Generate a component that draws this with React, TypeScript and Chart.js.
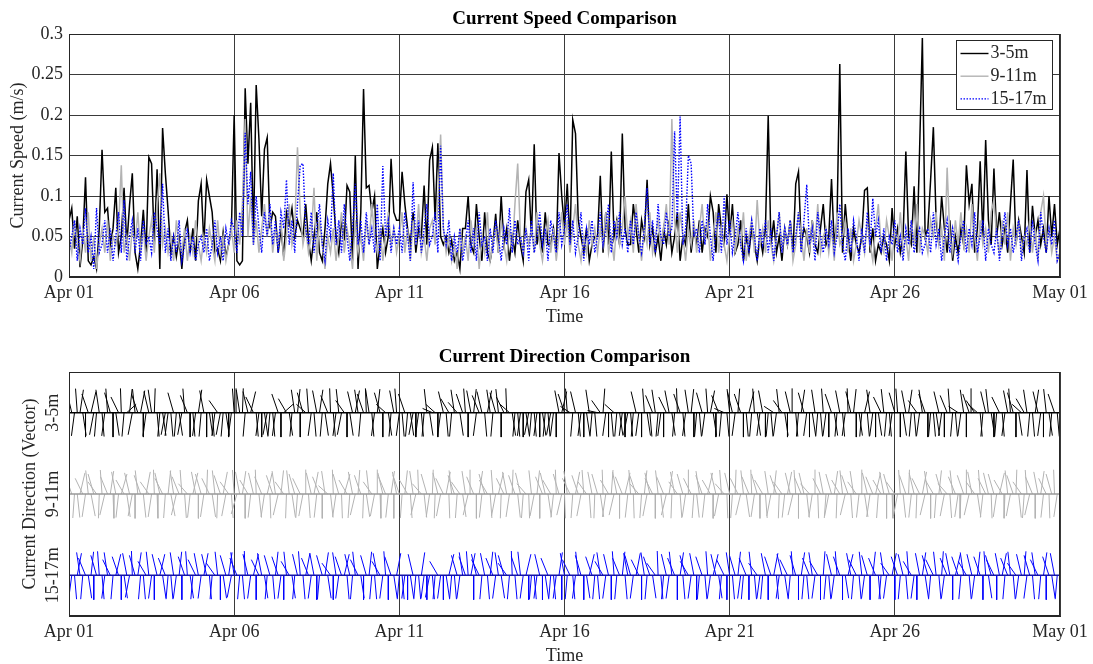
import React, { useEffect, useRef } from 'react';
import { Chart, registerables } from 'chart.js';

Chart.register(...registerables);

// ---------------- data ----------------
const DAY_TICKS = ['Apr 01', 'Apr 06', 'Apr 11', 'Apr 16', 'Apr 21', 'Apr 26', 'May 01'];
const SPEED_STEP_HOURS = 2; // one value every 2 hours, Apr 01 00:00 .. May 01 00:00
const DIR_STEP_HOURS = 2; // one direction stick every 2 hours

// current speed, cm/s (converted to m/s for plotting)
const speed3to5 = [
  7, 8.5, 3.5, 7.5, 1.2, 4.5, 12.3, 2, 1.5, 2.5, 1, 6,
  15.7, 8, 8.5, 4, 6, 11, 3, 5, 11, 4, 8.9, 12.8,
  3, 1, 4, 8.3, 3, 14.8, 14, 4, 13.3, 1, 18.4, 12.8,
  8.2, 3, 5, 2.5, 4.7, 1, 5.5, 7, 3, 6, 2, 9.4,
  11.5, 4, 12, 10, 8, 3, 3.5, 2, 5.5, 2.5, 4, 6,
  20, 2, 1.5, 2, 23.3, 14, 21.5, 5, 23.7, 17, 7.5, 15.8,
  17.2, 6, 8, 7.5, 3, 6, 2.5, 8, 6.5, 8.5, 5, 7,
  6, 5, 9, 4.5, 2, 5, 8, 3, 2, 6, 11.5, 14,
  10, 5, 3, 7, 4.5, 11.3, 10.5, 2, 15, 1, 8, 23.2,
  11, 11.3, 8, 10, 1, 4, 6, 3, 5, 14.6, 8, 7,
  7, 13, 9, 6, 4, 8, 3, 6, 5, 11.3, 4, 14.4,
  16, 7, 16.5, 5, 4, 5, 3, 4.5, 2, 3, 1, 6,
  6, 10, 4, 3, 9, 5, 2, 8, 3, 2, 4, 7.8,
  3, 10, 4, 6, 2, 5, 3, 7, 4, 2, 10.5, 12,
  5, 16.4, 4, 6, 3, 8, 4, 4, 6, 3, 15.3, 10,
  6, 11.5, 4, 19.4, 17.7, 7, 5, 3, 6, 2, 4, 5,
  5, 12.5, 3, 8, 4, 15.5, 5, 7, 4, 17.7, 6, 4,
  4, 9, 6, 3, 7, 5, 12, 4, 6, 3, 5, 2,
  6, 4, 7, 3, 5, 8, 2, 5, 4, 9, 3, 6,
  4, 7, 3, 6, 5, 10, 8, 3, 9, 6, 4, 10.2,
  5, 9, 3, 4, 7, 2, 5, 3, 6, 4, 2, 5,
  3, 6, 19.9, 4, 7, 3, 5, 2, 6, 4, 7, 3,
  11.5, 13, 4, 6, 5, 3, 7, 4, 3, 6, 9, 4,
  5, 12.1, 4, 7, 26.3, 3, 9, 5, 2, 6, 4, 3,
  5, 10.7, 11, 3, 6, 2, 4, 3, 5, 4, 2, 8.5,
  4, 6, 3, 5, 15.5, 5, 4, 11.2, 3, 15.7, 29.5, 5,
  6, 12, 18.5, 7, 4, 10, 6, 3, 7, 2, 5, 3,
  6, 4, 13.8, 9, 11.5, 3, 6, 14.3, 5, 16.9, 7, 4,
  13.4, 5, 8, 4, 6, 3, 9, 14.5, 4, 7, 5, 3,
  13.2, 3, 8.8, 5, 7, 4, 6, 3, 10, 5, 9, 4,
  6,
];

const speed9to11 = [
  5, 3, 7, 4, 2, 6, 3, 8, 2, 5, 1, 4,
  6, 3, 7, 2, 5, 4, 6, 13.8, 3, 5, 2, 6,
  4, 8, 3, 6, 2, 5, 7, 3, 9, 12.8, 4, 6,
  3, 5, 2, 7, 4, 3, 6, 2, 5, 3, 7, 4,
  2, 5, 3, 6, 4, 2, 7, 3, 5, 2, 4, 6,
  3, 7, 4, 9, 19.5, 5, 10, 4, 7, 3, 6, 9,
  5, 8, 3, 6, 4, 7, 2, 5, 9, 4, 6, 16,
  8, 4, 6, 3, 5, 11, 2, 7, 4, 1, 5, 3,
  6, 2, 5, 8, 3, 6, 4, 1, 7, 3, 5, 2,
  7, 4, 9, 5, 3, 6, 2, 5, 8, 4, 6, 3,
  5, 8, 3, 6, 2, 7, 4, 9, 3, 5, 2, 6,
  7, 4, 9, 17.6, 6, 3, 5, 2, 4, 1, 6, 3,
  5, 2, 7, 4, 6, 1, 5, 3, 8, 2, 4, 6,
  3, 7, 4, 2, 6, 3, 9, 14, 5, 3, 6, 4,
  6, 3, 8, 4, 2, 5, 7, 3, 6, 2, 5, 8,
  4, 7, 3, 6, 9, 4, 2, 5, 3, 7, 4, 6,
  3, 6, 4, 8, 3, 5, 2, 7, 4, 6, 10, 5,
  7, 3, 9, 5, 2, 6, 4, 8, 3, 5, 7, 4,
  6, 9, 4, 19.5, 7, 3, 8, 5, 2, 6, 4, 7,
  3, 6, 9, 4, 7, 2, 5, 8, 3, 6, 4, 2,
  5, 7, 3, 6, 4, 8, 2, 5, 7, 3, 9.5, 4,
  6, 3, 7, 4, 2, 5, 8, 3, 6, 4, 7, 2,
  4, 8, 5, 2, 6, 3, 7, 4, 9, 3, 5, 6,
  3, 6, 2, 8, 4, 5, 7, 3, 6, 2, 4, 7,
  5, 3, 7, 4, 2, 6, 9, 4, 3, 7, 5, 2,
  6, 4, 8, 3, 5, 2, 7, 4, 9, 3, 6, 5,
  3, 7, 5, 8, 4, 6, 2, 13.5, 5, 3, 7, 4,
  8, 4, 6, 3, 9, 5, 2, 7, 4, 6, 3, 8,
  9.5, 5, 3, 7, 4, 8, 2, 6, 4, 7, 3, 5,
  4, 7, 3, 6, 2, 8, 10, 4, 6, 3, 5, 2,
  3,
];

const speed15to17 = [
  3, 5, 7, 2, 6, 4, 8.5, 3, 5, 1, 8.5, 3,
  4, 7, 3, 6, 2, 5, 8, 3, 9.5, 2, 5, 7,
  3, 6, 2, 7, 4, 5, 3, 8, 6, 4, 11.5, 3,
  6, 2, 5, 3, 7, 2, 4, 6, 3, 5, 2, 4,
  5, 3, 6, 2, 4, 7, 3, 5, 2, 6, 4, 7,
  6, 3, 8, 5, 17.8, 9, 13, 4, 10, 6, 3, 8,
  5, 9, 4, 7, 3, 8, 6, 12, 4, 7, 3, 9,
  13.8, 14, 6, 4, 8, 3, 6, 9, 4, 2, 7, 5,
  12.8, 4, 7, 3, 9, 5, 2, 6, 11.5, 4, 7, 3,
  8, 4, 6, 3, 9, 2, 13.7, 5, 7, 3, 6, 4,
  6, 3, 8, 5, 2, 11.7, 4, 7, 3, 6, 9, 4,
  5, 8, 3, 16.2, 6, 4, 7, 2, 5, 3, 6, 2,
  4, 7, 3, 6, 2, 8, 4, 5, 2, 6, 3, 7,
  5, 2, 6, 4, 8.5, 3, 7, 4, 5, 3, 6, 2,
  7, 3, 5, 8, 4, 6, 2, 7, 5, 3, 8, 4,
  6, 9, 4, 7, 3, 5, 8, 2, 6, 4, 7, 3,
  5, 8, 4, 6, 9, 3, 7, 5, 8, 4, 6, 3,
  7, 4, 8, 5, 3, 6, 11, 4, 7, 3, 9, 5,
  4, 8, 5, 6, 18, 7, 19.8, 4, 6, 15, 14, 5,
  6, 3, 7, 4, 9, 5, 2, 6, 8, 3, 10, 4,
  7, 3, 5, 8, 4, 2, 6, 3, 7, 5, 2, 6,
  4, 7, 3, 6, 2, 5, 8, 3, 6, 4, 7, 3,
  5, 8, 3, 7, 11.4, 4, 6, 2, 8, 5, 3, 6,
  4, 7, 3, 5, 9, 4, 2, 6, 3, 7, 5, 2,
  6, 3, 8, 4, 9.7, 5, 7, 3, 6, 2, 5, 4,
  7, 3, 5, 2, 6, 4, 7, 3, 5, 6, 3, 4,
  6, 3, 8, 4, 6, 2, 5, 7, 3, 6, 4, 2,
  5, 7, 3, 6, 4, 8, 3, 5, 7, 2, 6, 4,
  3, 6, 2, 5, 8, 4, 6, 3, 5, 7, 2, 5,
  6, 3, 7, 4, 2, 8, 5, 3, 6, 4, 7, 2,
  3,
];

// current direction, degrees (0 = east, 90 = north), one every 2 hours
const dir3to5 = [
  115, 120, -108, 100, 70, -70, -90, 130, 60, -115, -102, 110,
  -78, -108, 100, 125, -90, -70, 140, 95, -102, 20, 75, -115,
  105, 130, 65, -90, -108, 120, 110, 85, -78, -102, -70, -115,
  -108, -78, 125, -102, -70, -115, 100, 135, -90, -78, -108, 70,
  -102, 115, -90, -70, -78, -108, 150, -115, -102, -70, -90, -108,
  100, 95, 110, 85, -102, 120, 60, 140, -78, -108, -90, -70,
  -115, -102, -78, -108, 130, -90, 20, 145, -70, -102, 110, 75,
  -90, 125, 160, 100, -108, -78, 115, 70, -102, -70, 135, 95,
  -78, -108, 105, -115, 150, -90, -70, 120, 65, 110, -102, 130,
  95, 110, -78, -108, 75, 125, -90, 160, -70, -102, 115, 100,
  -108, -78, 130, -102, -70, -115, -90, -108, -78, -102, 105, -70,
  170, 160, -90, -108, 120, -78, 145, -102, 110, 155, -70, 130,
  100, -90, 115, 75, -108, 135, 120, -78, 65, 110, -102, 125,
  105, -90, 140, 95, 160, -70, -102, -78, -108, -90, -70, -115,
  -102, -78, -108, -90, -70, -102, -78, -115, -108, -90, 115, 60,
  130, 100, 165, -102, 120, -78, -108, -90, -70, 110, -102, -78,
  175, 150, 80, -108, -90, -78, 160, -102, -70, -108, -90, -115,
  -78, -102, 120, -108, -90, 100, -70, -78, 135, 110, -102, -108,
  -90, 140, 115, -70, -102, 95, 130, -78, -108, 110, 75, -90,
  -102, -78, 125, -108, 100, 65, -70, -90, 135, -102, 170, -78,
  105, 120, -108, 80, 130, -90, -78, 60, -102, 100, -70, -108,
  115, -90, -102, -78, 165, -108, 105, 150, -70, -90, 120, 95,
  -78, -102, 70, 125, -108, -90, -70, 110, -102, -78, 100, -108,
  -90, 130, -70, -102, 115, -78, -108, 95, 120, 75, -90, -70,
  -102, 60, -78, 110, -108, -90, -70, 140, 105, -102, -78, -108,
  125, 100, -90, -70, 115, 70, -102, -78, 150, -108, 110, 130,
  -90, -102, -78, -70, 120, -108, -90, 135, 100, -102, -78, 165,
  -108, 110, -90, 130, 95, 150, 160, -78, -102, 120, 105, -70,
  -90, -102, 140, -78, -108, 115, 100, 125, -90, -70, 160, 145,
  110, -102, -78, 70, 120, -108, -90, 105, -70, -102, 130, -78,
];

const dir9to11 = [
  115, 130, -100, -75, 60, 140, -110, 105, -65, 125, 150, -95,
  100, -120, 135, 70, -85, 115, -105, 55, 145, -70, 120, -115,
  -90, 105, 130, -75, 65, 150, -110, 95, -85, 120, 140, -100,
  75, -65, 110, -120, 135, 100, -80, 155, -105, 60, 115, -90,
  125, -110, 85, 140, -70, 105, -95, 130, 65, -115, 150, -80,
  100, -125, 115, 70, -90, 145, -105, 120, 95, -75, 135, -110,
  60, -85, 130, 110, -120, 75, 150, -95, 105, -70, 125, -100,
  140, -115, 90, -80, 120, 65, -105, 135, -90, 110, 160, -75,
  95, -110, 125, -85, 55, 145, -100, 115, -120, 80, 130, -95,
  -70, 105, 150, -115, 90, -85, 120, 135, -105, 70, -90, 115,
  130, -100, 75, 145, -80, 110, -120, 95, 155, -75, 125, -110,
  85, -95, 120, -115, 140, 65, -85, 105, 130, -100, 150, -70,
  110, -120, 95, 135, -90, 70, -105, 125, 145, -80, 100, -115,
  60, -95, 140, 115, -110, 85, 130, -75, 120, -100, 155, -85,
  105, -115, 75, -90, 135, 120, -70, 145, -105, 95, 125, -120,
  -85, 110, 140, -100, 65, 130, -115, 100, 150, -80, 115, -95,
  125, -70, 95, -110, 145, 80, -120, 115, -90, 135, 60, -105,
  100, -85, 130, 155, -100, 75, -115, 120, 140, -90, 105, -75,
  135, -120, 70, -95, 115, 150, -80, 125, -110, 90, 140, -100,
  -75, 110, 130, -105, 60, 145, -90, 120, -115, 100, 155, -85,
  120, -100, 85, 140, -120, 105, -70, 135, 95, -110, 125, -90,
  145, -80, 110, -115, 75, 130, -95, 150, -105, 65, 120, -120,
  100, -90, 135, 120, -75, 155, -110, 90, -85, 140, 115, -100,
  -115, 125, 70, -95, 145, 105, -120, 130, -80, 110, 150, -105,
  90, -70, 120, -110, 135, 60, -100, 145, 115, -90, 125, -85,
  150, -115, 100, -75, 130, 85, -105, 120, -95, 140, 65, -120,
  110, -90, 145, -100, 75, 125, -115, 155, -80, 105, 135, -110,
  -95, 130, 90, -120, 115, 150, -70, 100, -105, 140, 120, -85,
  125, -110, 60, 145, -95, 105, -115, 130, 85, -75, 150, -100,
  100, -120, 135, -90, 115, 70, -105, 140, -85, 125, 95, -110,
];

const dir15to17 = [
  120, -108, -78, 65, 110, -102, 135, -70, 75, -90, 125, 100,
  -78, -108, 110, 140, -102, 60, 130, -90, -70, 115, -115, 95,
  125, 70, -102, -78, 145, 105, -108, -90, 120, 60, -70, 135,
  -102, -78, 110, -108, 75, -90, 130, 100, -70, -102, 140, 115,
  -108, 65, 120, -78, -102, 150, 105, -90, -70, 125, 70, -115,
  110, 135, -102, -78, 95, 120, -108, 60, -90, 140, 115, -70,
  -102, 125, -78, 75, 130, -108, -90, 105, 145, -70, -102, 120,
  100, -78, 65, 135, -108, 115, -90, -102, 125, 70, -70, 150,
  -90, 110, -108, 130, 60, -78, 120, -102, 105, 140, -70, -90,
  125, 75, -102, -78, 115, 145, -108, 100, -90, 130, -70, 65,
  -102, -78, -108, -90, -70, 120, -102, -78, 70, -108, -90, -115,
  -78, -102, 145, -108, -90, -70, 60, -102, -78, 125, -108, 110,
  130, 100, 65, -90, 120, 140, -102, 115, -78, 75, 135, -108,
  110, -70, 125, 150, -102, 95, -78, 130, 105, -108, 60, -90,
  -102, -78, -108, 120, -90, -70, 135, -102, -78, -108, 70, -90,
  115, -102, 140, -78, -108, 105, 125, -90, -70, 60, 130, -102,
  -78, 110, 145, -108, 120, -90, 100, -102, 135, 75, -78, 115,
  125, -108, 65, 140, -90, 110, -102, 130, -70, 150, 95, -78,
  -102, 120, -108, 105, 135, -90, 70, -78, 125, 145, -108, 115,
  -90, -102, 130, -78, 100, -108, 60, 120, -70, -102, 140, -90,
  110, -78, 125, 75, -108, -102, 135, -90, 105, -78, 150, -108,
  -102, 115, -90, 130, 65, -78, -108, 120, -70, 140, -102, 100,
  125, -90, 70, -102, -78, 135, 110, -108, 145, -90, 80, -102,
  -78, 120, -108, 100, 130, -90, -70, 60, 115, -102, 140, -78,
  105, -108, 125, -90, 75, 135, -78, -102, 110, -108, 150, 65,
  -90, 130, -102, 120, -78, 100, 145, -108, -90, 115, 70, -70,
  125, -102, 140, 105, -78, 80, -108, 135, 115, -90, 60, 130,
  -102, 110, 145, -78, 120, -108, 75, 130, -90, 100, -70, 125,
  140, -90, 115, 65, -102, 135, 105, -78, 150, -108, 120, 80,
  -108, 125, -78, 110, 140, -102, 70, -90, 130, -70, 115, -102,
];

const DEPTH_LABELS = ['15-17m', '9-11m', '3-5m']; // y = 1, 2, 3
const DEPTH_LEVELS = [1, 2, 3];

// ---------------- styling ----------------
const FONT = '"Liberation Serif", "Times New Roman", Times, serif';
const TEXT = '#262626';
const GRID = '#3a3a3a';
const BLACK = '#000000';
const GRAY = '#b3b3b3';
const BLUE = '#0000ff';
const STICK_SCALE = 0.3;

Chart.defaults.font.family = FONT;
Chart.defaults.font.size = 18;
Chart.defaults.color = TEXT;

const toSpeedPoints = (arr: number[]) =>
  arr.map((v, i) => ({ x: (i * SPEED_STEP_HOURS) / 24, y: v / 100 }));

function stickPoints(angles: number[], base: number) {
  const pts: { x: number; y: number | null }[] = [];
  angles.forEach((deg, i) => {
    const t = (i * DIR_STEP_HOURS) / 24;
    const r = (deg * Math.PI) / 180;
    pts.push({ x: t, y: base });
    pts.push({ x: t + STICK_SCALE * Math.cos(r), y: base + STICK_SCALE * Math.sin(r) });
    pts.push({ x: t, y: null });
  });
  return pts;
}

const baseline = (y: number) => [
  { x: 0, y },
  { x: 30, y },
];

type TextOpts = {
  title: string;
  yTitle: string;
  yTitleX: number;
  legend?: boolean;
  depthLabels?: boolean;
};

function annotations(o: TextOpts) {
  return {
    id: 'annotations',
    afterDatasetsDraw(chart: any) {
      const { ctx, chartArea: a } = chart;
      ctx.save();
      ctx.strokeStyle = TEXT;
      ctx.lineWidth = 1;
      ctx.strokeRect(
        Math.round(a.left) + 0.5,
        Math.round(a.top) + 0.5,
        Math.round(a.right - a.left) - 1,
        Math.round(a.bottom - a.top) - 1
      );
      ctx.restore();
    },
    afterDraw(chart: any) {
      const { ctx, chartArea: a } = chart;
      const cx = (a.left + a.right) / 2;
      const cy = (a.top + a.bottom) / 2;
      ctx.save();
      ctx.textAlign = 'center';
      ctx.textBaseline = 'middle';
      ctx.fillStyle = '#000';
      ctx.font = `bold 19px ${FONT}`;
      ctx.fillText(o.title, cx, a.top - 15);
      ctx.fillStyle = TEXT;
      ctx.font = `18px ${FONT}`;
      ctx.fillText('Time', cx, a.bottom + 40);
      ctx.save();
      ctx.translate(o.yTitleX, cy);
      ctx.rotate(-Math.PI / 2);
      ctx.fillText(o.yTitle, 0, 0);
      ctx.restore();
      if (o.depthLabels) {
        const ys = chart.scales.y;
        DEPTH_LEVELS.forEach((lv, i) => {
          ctx.save();
          ctx.translate(53, ys.getPixelForValue(lv));
          ctx.rotate(-Math.PI / 2);
          ctx.fillText(DEPTH_LABELS[i], 0, 0);
          ctx.restore();
        });
      }
      if (o.legend) {
        const bx = Math.round(a.right) - 103.5;
        const by = Math.round(a.top) + 6.5;
        const bw = 96;
        const bh = 69;
        ctx.fillStyle = '#fff';
        ctx.fillRect(bx, by, bw, bh);
        ctx.strokeStyle = TEXT;
        ctx.lineWidth = 1;
        ctx.strokeRect(bx, by, bw, bh);
        const items = [
          { label: '3-5m', color: BLACK, dash: [] as number[] },
          { label: '9-11m', color: GRAY, dash: [] as number[] },
          { label: '15-17m', color: BLUE, dash: [1.5, 1.5] },
        ];
        items.forEach((it, i) => {
          const y = by + 13 + i * 22.7;
          ctx.beginPath();
          ctx.strokeStyle = it.color;
          ctx.lineWidth = 1.4;
          ctx.setLineDash(it.dash);
          ctx.moveTo(bx + 4, y);
          ctx.lineTo(bx + 32, y);
          ctx.stroke();
          ctx.setLineDash([]);
          ctx.fillStyle = TEXT;
          ctx.textAlign = 'left';
          ctx.fillText(it.label, bx + 34, y);
        });
      }
      ctx.restore();
    },
  };
}

const xScale = (axisHeight: number) => ({
  type: 'linear' as const,
  min: 0,
  max: 30,
  afterFit: (s: any) => {
    s.height = axisHeight;
  },
  ticks: {
    stepSize: 5,
    autoSkip: false,
    maxRotation: 0,
    padding: 5,
    color: TEXT,
    callback: (v: any) => DAY_TICKS[Math.round(Number(v) / 5)] ?? '',
  },
  grid: { color: GRID, lineWidth: 1, drawTicks: false },
  border: { color: TEXT },
});

function topConfig(): any {
  return {
    type: 'line',
    data: {
      datasets: [
        { label: '3-5m', data: toSpeedPoints(speed3to5), borderColor: BLACK, borderWidth: 1.5, pointRadius: 0, order: 2 },
        { label: '9-11m', data: toSpeedPoints(speed9to11), borderColor: GRAY, borderWidth: 1.5, pointRadius: 0, order: 1 },
        { label: '15-17m', data: toSpeedPoints(speed15to17), borderColor: BLUE, borderWidth: 1.4, borderDash: [1.5, 1.5], pointRadius: 0, order: 0 },
      ],
    },
    options: {
      animation: false,
      responsive: false,
      events: [],
      layout: { padding: { top: 34, right: 33, left: 0, bottom: 0 } },
      plugins: { legend: { display: false }, tooltip: { enabled: false } },
      elements: { line: { tension: 0 } },
      scales: {
        x: xScale(55),
        y: {
          min: 0,
          max: 0.3,
          afterFit: (s: any) => {
            s.width = 69;
          },
          ticks: {
            stepSize: 0.05,
            padding: 6,
            color: TEXT,
            callback: (v: any) => String(Math.round(Number(v) * 100) / 100),
          },
          grid: { color: GRID, lineWidth: 1, drawTicks: false },
          border: { color: TEXT },
        },
      },
    },
    plugins: [annotations({ title: 'Current Speed Comparison', yTitle: 'Current Speed (m/s)', yTitleX: 18, legend: true })],
  };
}

function bottomConfig(): any {
  const rows = [
    { angles: dir3to5, y: 3, color: BLACK, base: '#000000' },
    { angles: dir9to11, y: 2, color: GRAY, base: '#999999' },
    { angles: dir15to17, y: 1, color: BLUE, base: '#1414a8' },
  ];
  const datasets: any[] = [];
  rows.forEach((r) => {
    datasets.push({ data: baseline(r.y), borderColor: r.base, borderWidth: 1.5, pointRadius: 0, spanGaps: false });
    datasets.push({ data: stickPoints(r.angles, r.y), borderColor: r.color, borderWidth: 1, pointRadius: 0, spanGaps: false });
  });
  return {
    type: 'line',
    data: { datasets },
    options: {
      animation: false,
      responsive: false,
      events: [],
      layout: { padding: { top: 40, right: 33, left: 0, bottom: 0 } },
      plugins: { legend: { display: false }, tooltip: { enabled: false } },
      elements: { line: { tension: 0 } },
      scales: {
        x: xScale(48),
        y: {
          min: 0.5,
          max: 3.5,
          afterFit: (s: any) => {
            s.width = 69;
          },
          ticks: { display: false, stepSize: 1 },
          grid: { display: false, drawTicks: false },
          border: { color: TEXT },
        },
      },
    },
    plugins: [
      annotations({ title: 'Current Direction Comparison', yTitle: 'Current Direction (Vector)', yTitleX: 30, depthLabels: true }),
    ],
  };
}

export default function App() {
  const topRef = useRef<HTMLCanvasElement>(null);
  const botRef = useRef<HTMLCanvasElement>(null);

  useEffect(() => {
    const top = new Chart(topRef.current as HTMLCanvasElement, topConfig());
    const bot = new Chart(botRef.current as HTMLCanvasElement, bottomConfig());
    return () => {
      top.destroy();
      bot.destroy();
    };
  }, []);

  return (
    <div style={{ position: 'absolute', left: 0, top: 0, width: 1093, height: 664, background: '#fff' }}>
      <canvas ref={topRef} width={1093} height={332} style={{ position: 'absolute', left: 0, top: 0, width: 1093, height: 332 }} />
      <canvas ref={botRef} width={1093} height={332} style={{ position: 'absolute', left: 0, top: 332, width: 1093, height: 332 }} />
    </div>
  );
}
